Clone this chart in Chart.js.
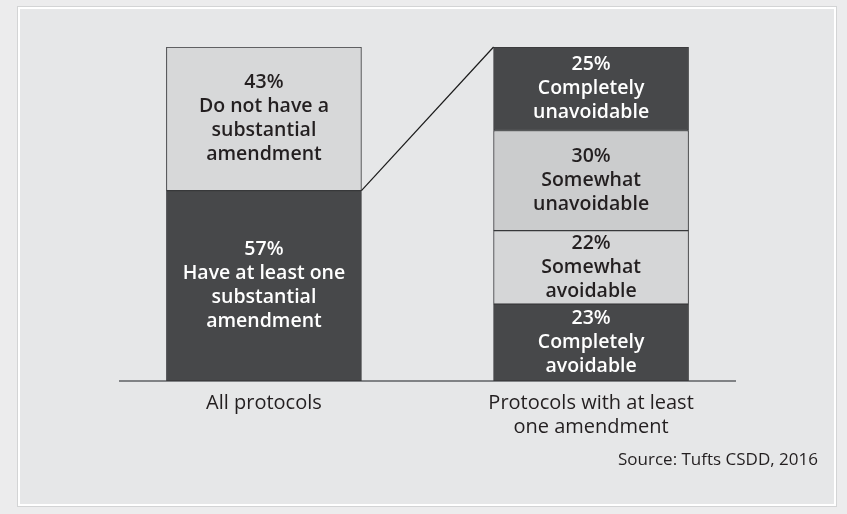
<!DOCTYPE html>
<html>
<head>
<meta charset="utf-8">
<script src="https://cdn.jsdelivr.net/npm/chart.js@4"></script>
<style>
  html, body { margin: 0; padding: 0; background: #ececed; width: 847px; height: 514px; overflow: hidden; }
  #panel { position: absolute; left: 18px; top: 7px; width: 814px; height: 495px;
           background: #e6e7e8; border: 2px solid #ffffff; box-shadow: 0 0 0 1px #d3d4d5; }
  #wrap { position: absolute; left: 0; top: 0; width: 847px; height: 514px; }
  #source { position: absolute; right: 29px; top: 447px; font: 17px "Open Sans", sans-serif; color: #231f20; }
</style>
</head>
<body>
<div id="panel"></div>
<div id="wrap"><canvas id="chart"></canvas></div>
<div id="source">Source: Tufts CSDD, 2016</div>
<script>
// categories on the x axis
const categories = ['All protocols', ['Protocols with at least', 'one amendment']];

// left bar, bottom to top
const allValues = [57, 43];
const allText = [
    ['Have at least one', 'substantial', 'amendment'],
    ['Do not have a', 'substantial', 'amendment']
];

// right bar, bottom to top
const amendValues = [23, 22, 30, 25];
const amendText = [
    ['Completely', 'avoidable'],
    ['Somewhat', 'avoidable'],
    ['Somewhat', 'unavoidable'],
    ['Completely', 'unavoidable']
];

const DARK = '#47484a';
const allColors = [DARK, '#d7d8d9'];
const amendColors = [DARK, '#d5d6d7', '#cbcccd', DARK];

const datasets = [];
allValues.forEach((v, i) => {
    datasets.push({ label: allText[i].join(' '), data: [{ x: 0, y: v }], backgroundColor: allColors[i], lines: allText[i] });
});
amendValues.forEach((v, i) => {
    datasets.push({ label: amendText[i].join(' '), data: [{ x: 1, y: v }], backgroundColor: amendColors[i], lines: amendText[i] });
});
datasets.forEach(ds => {
    ds.borderColor = '#38393b';
    ds.borderWidth = 1;
    ds.borderSkipped = false;
    ds.barThickness = 195;
});

// labels inside the segments + connector line
const segmentLabels = {
    id: 'segmentLabels',
    afterDatasetsDraw(chart) {
        const ctx = chart.ctx;
        ctx.save();
        // connector from top of left dark segment to top of right bar
        const leftEl = chart.getDatasetMeta(0).data[0];
        const rightEl = chart.getDatasetMeta(chart.data.datasets.length - 1).data[0];
        ctx.strokeStyle = '#1a1a1a';
        ctx.lineWidth = 1.2;
        ctx.beginPath();
        ctx.moveTo(leftEl.x + leftEl.width / 2, leftEl.y);
        ctx.lineTo(rightEl.x - rightEl.width / 2, rightEl.y);
        ctx.stroke();

        ctx.textAlign = 'center';
        ctx.textBaseline = 'middle';
        chart.data.datasets.forEach((ds, i) => {
            const el = chart.getDatasetMeta(i).data[0];
            const lines = [ds.data[0].y + '%'].concat(ds.lines);
            const cy = (el.y + el.base) / 2;
            const lh = 24;
            ctx.fillStyle = ds.backgroundColor === DARK ? '#ffffff' : '#231f20';
            ctx.font = '600 19.5px "Open Sans", sans-serif';
            lines.forEach((t, k) => {
                ctx.fillText(t, el.x, cy + (k - (lines.length - 1) / 2) * lh);
            });
        });
        ctx.restore();
    }
};

const ctx = document.getElementById('chart').getContext('2d');
new Chart(ctx, {
    type: 'bar',
    data: { datasets: datasets },
    options: {
        responsive: true,
        maintainAspectRatio: false,
        animation: false,
        events: [],
        layout: { padding: { left: 120, right: 112, top: 47, bottom: 63 } },
        plugins: { legend: { display: false }, tooltip: { enabled: false } },
        scales: {
            x: {
                type: 'linear',
                stacked: true,
                offset: false,
                min: -0.44,
                max: 1.44,
                afterBuildTicks: (scale) => { scale.ticks = [{ value: 0 }, { value: 1 }]; },
                afterFit: (scale) => { scale.height = 70; },
                grid: { display: false, drawTicks: false },
                border: { display: true, color: '#808285', width: 2 },
                ticks: {
                    padding: 10,
                    color: '#231f20',
                    font: { family: '"Open Sans", sans-serif', size: 20, lineHeight: 1.2 },
                    callback: (v) => categories[v]
                }
            },
            y: {
                stacked: true,
                display: false,
                min: 0,
                max: 100
            }
        }
    },
    plugins: [segmentLabels]
});
</script>
</body>
</html>
